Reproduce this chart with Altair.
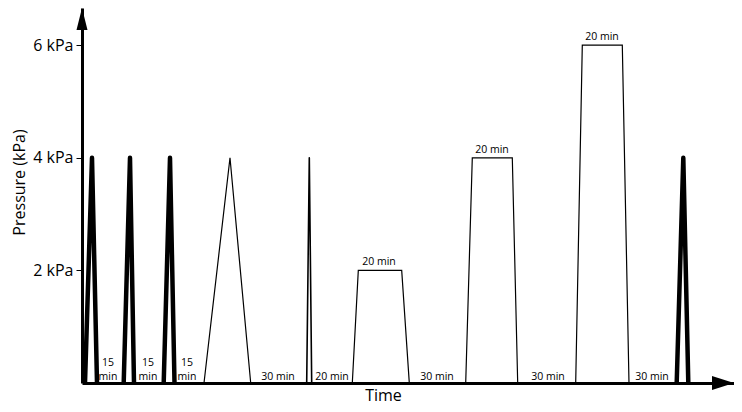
import altair as alt
import pandas as pd

FONT = "Open Sans"

# Pressure profiles: (time offset, pressure kPa) vertices, time in arbitrary units along axis
thick_spikes = [
    [(3, 0), (10, 4), (15, 0)],
    [(41.7, 0), (48, 4), (52, 0)],
    [(81.7, 0), (88, 4), (92.5, 0)],
    [(594.7, 0), (601.3, 4), (606.3, 0)],
]
thin_shapes = [
    [(122, 0), (148, 4), (168.7, 0)],
    [(270.3, 0), (276.3, 2), (319.7, 2), (327.3, 0)],
    [(383.7, 0), (390.3, 4), (430.3, 4), (435.7, 0)],
    [(493.7, 0), (500.3, 6), (540.3, 6), (547, 0)],
]
fast_spike = [[(224.7, 0), (227.3, 4), (229.7, 0)]]

short_gap_labels = ["15\nmin", "15\nmin", "15\nmin"]
short_gap_times = [26, 66, 105]
long_gap_labels = ["30 min", "20 min", "30 min", "30 min", "30 min"]
long_gap_times = [196, 250, 355, 466, 570]

hold_labels = ["20 min", "20 min", "20 min"]
hold_times = [297, 410, 520]
hold_pressures = [2, 4, 6]

y_ticks = [2, 4, 6]
T_MAX = 652
P_MAX = 6.66


def to_df(shapes):
    rows = []
    for i, shp in enumerate(shapes):
        for j, (t, p) in enumerate(shp):
            rows.append({"shape": i, "ord": j, "t": t, "p": p})
    return pd.DataFrame(rows)


x_enc = alt.X(
    "t:Q",
    scale=alt.Scale(domain=[0, T_MAX], nice=False, zero=False),
    axis=alt.Axis(
        title="Time", ticks=False, labels=False, grid=False,
        domainWidth=3, domainColor="black", zindex=1,
        titleFont=FONT, titleFontSize=16, titleFontWeight="normal", titleColor="black",
        titleX=301, titleY=12, titleBaseline="middle", titleAlign="center",
    ),
)
y_enc = alt.Y(
    "p:Q",
    scale=alt.Scale(domain=[0, P_MAX], nice=False),
    axis=alt.Axis(
        values=y_ticks, labelExpr="datum.value + ' kPa'",
        title="Pressure (kPa)", grid=False,
        domainWidth=3, domainColor="black", zindex=1,
        tickSize=6, tickWidth=1, tickColor="black",
        labelFont=FONT, labelFontSize=16, labelColor="black", labelPadding=3,
        titleFont=FONT, titleFontSize=16, titleFontWeight="normal", titleColor="black",
        titleX=-63, titleY=174, titleBaseline="middle", titleAlign="center", titleAngle=270,
    ),
)

thick = alt.Chart(to_df(thick_spikes)).mark_line(
    color="black", strokeWidth=4.5, strokeJoin="round"
).encode(x=x_enc, y=y_enc, detail="shape:N", order="ord:Q")

thin = alt.Chart(to_df(thin_shapes)).mark_line(
    color="black", strokeWidth=1.2
).encode(x=x_enc, y=y_enc, detail="shape:N", order="ord:Q")

fast = alt.Chart(to_df(fast_spike)).mark_line(
    color="black", strokeWidth=1.6, strokeJoin="round"
).encode(x=x_enc, y=y_enc, detail="shape:N", order="ord:Q")

short_df = pd.DataFrame({"t": short_gap_times, "p": [0] * len(short_gap_times), "label": short_gap_labels})
short_gaps = alt.Chart(short_df).mark_text(
    font=FONT, fontSize=10.5, color="black", baseline="bottom", dy=-15,
    lineBreak="\n", lineHeight=14,
).encode(x=x_enc, y=y_enc, text="label:N")

long_df = pd.DataFrame({"t": long_gap_times, "p": [0] * len(long_gap_times), "label": long_gap_labels})
long_gaps = alt.Chart(long_df).mark_text(
    font=FONT, fontSize=10.5, color="black", baseline="bottom", dy=-1,
).encode(x=x_enc, y=y_enc, text="label:N")

hold_df = pd.DataFrame({"t": hold_times, "p": hold_pressures, "label": hold_labels})
holds = alt.Chart(hold_df).mark_text(
    font=FONT, fontSize=10.5, color="black", baseline="alphabetic", dy=-5,
).encode(x=x_enc, y=y_enc, text="label:N")

yarrow = alt.Chart(pd.DataFrame({"t": [0], "p": [P_MAX]})).mark_point(
    shape="M0,0L-0.5,2L0.5,2Z", size=484, filled=True, color="black", opacity=1, strokeWidth=0
).encode(x=x_enc, y=y_enc)

xarrow = alt.Chart(pd.DataFrame({"t": [T_MAX], "p": [0]})).mark_point(
    shape="M0,0L-2,-0.64L-2,0.64Z", size=484, filled=True, color="black", opacity=1, strokeWidth=0
).encode(x=x_enc, y=y_enc)

chart = alt.layer(thin, fast, thick, short_gaps, long_gaps, holds, yarrow, xarrow).properties(
    width=652, height=375,
    padding={"left": 74, "top": 0, "right": 0, "bottom": 21},
    autosize=alt.AutoSizeParams(type="none"),
    background="white",
).configure_view(strokeWidth=0)

chart.save("out.html", embed_options={"renderer": "svg", "actions": False})
